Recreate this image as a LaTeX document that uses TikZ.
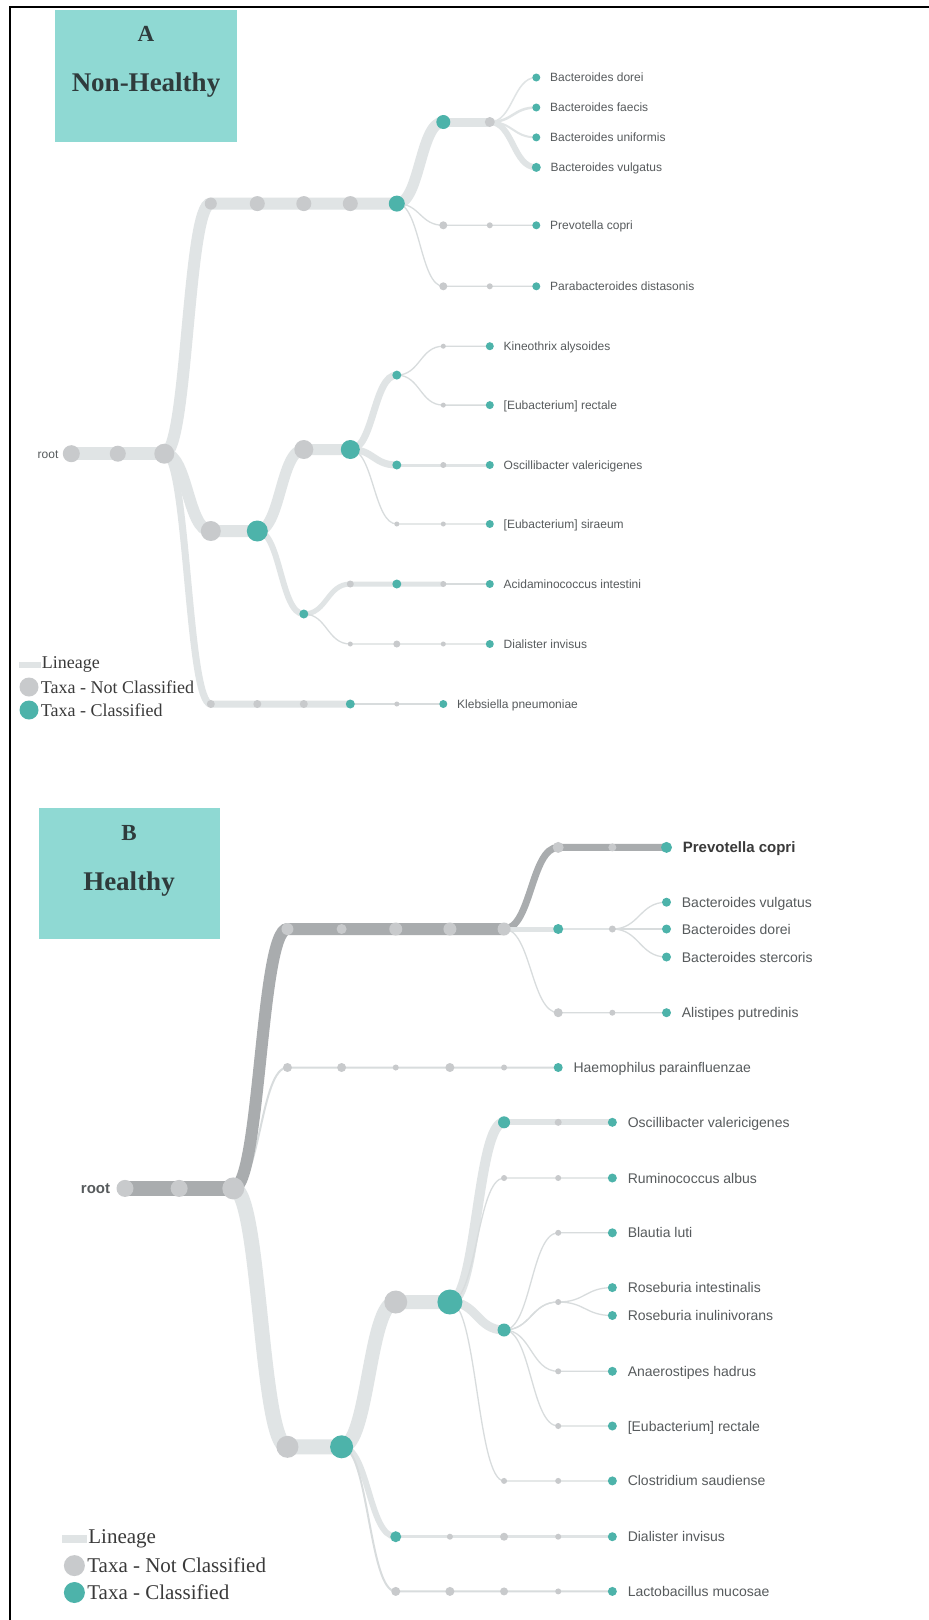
\documentclass[tikz,border=0pt]{standalone}
\usepackage{fontspec}
\setmainfont{Liberation Serif}
\setsansfont{Liberation Sans}
\usetikzlibrary{calc,positioning,backgrounds}

\definecolor{taxteal}{HTML}{4DB3AA}
\definecolor{taxgray}{HTML}{C8CACC}
\definecolor{lineage}{HTML}{E0E4E5}
\definecolor{lineagedark}{HTML}{A9ACAE}
\definecolor{twiggray}{HTML}{D8DCDD}
\definecolor{panelbox}{HTML}{8FD9D3}
\definecolor{paneltext}{HTML}{2F3B3C}
\definecolor{labelgray}{HTML}{575B5D}
\definecolor{legendtext}{HTML}{3A3A3A}

\begin{document}
\begin{tikzpicture}[x=1pt, y=-1pt,
    tax/.style={circle, inner sep=0pt, minimum size=#1},
    nc/.style={tax=#1, fill=taxgray},
    cl/.style={tax=#1, fill=taxteal},
    lbl/.style={font=\sffamily\fontsize{12}{12}\selectfont, text=labelgray,
      inner sep=0pt, text height=8.6pt, text depth=0pt},
    lin/.style={draw=lineage, line width=#1},
    dark/.style={draw=lineagedark, line width=#1},
    twig/.style={draw=twiggray, line width=#1}, twig/.default=1.3,
    link/.style={to path={let \p1=(\tikztostart), \p2=(\tikztotarget) in
        .. controls ({(\x1+\x2)/2},\y1) and ({(\x1+\x2)/2},\y2) .. (\tikztotarget)}},
    head/.style={text=paneltext, inner sep=0pt, font=\bfseries\fontsize{#1}{#1}\selectfont},
    leg/.style={text=legendtext, inner sep=0pt, font=\fontsize{#1}{#1}\selectfont},
  ]
\useasboundingbox (0,0) rectangle (929,1620);
\begin{scope}[on background layer]
  \fill[white] (0,0) rectangle (929,1620);
\end{scope}
\draw[line width=2.5pt] (10,1620) -- (10,7) -- (929,7);

% ================= A : non-healthy =================
\fill[panelbox] (55,10) rectangle (237,142);
\node[head=23] (hA) at (146,34) {A};
\node[head=27] (tA) at (146,85) {Non-Healthy};

\begin{scope}[x=46.5pt, xshift=71.3pt, label distance=9.5pt]
  % main stem
  \node[nc=17] (a0) at (0,453.7) {};
  \node[nc=16] (a1) at (1,453.7) {};
  \node[nc=20] (a2) at (2,453.7) {};
  \node[lbl, left=4pt of a0] (rootA) {root};
  % Bacteroidales
  \node[nc=12] (at3) at (3,203.6) {};
  \node[nc=15] (at4) at (4,203.6) {};
  \node[nc=15] (at5) at (5,203.6) {};
  \node[nc=15] (at6) at (6,203.6) {};
  \node[cl=16] (at7) at (7,203.6) {};
  \node[cl=14] (ab8) at (8,122) {};
  \node[nc=10] (ab9) at (9,122) {};
  \node[cl=8, label={[lbl]right:Bacteroides dorei}] (ab10a) at (10,77.5) {};
  \node[cl=8, label={[lbl]right:Bacteroides faecis}] (ab10b) at (10,107.5) {};
  \node[cl=8, label={[lbl]right:Bacteroides uniformis}] (ab10c) at (10,137.4) {};
  \node[cl=9, label={[lbl]right:Bacteroides vulgatus}] (ab10d) at (10,167.4) {};
  \node[nc=8] (ap8) at (8,225.3) {};
  \node[nc=6] (ap9) at (9,225.3) {};
  \node[cl=8, label={[lbl]right:Prevotella copri}] (ap10) at (10,225.3) {};
  \node[nc=8] (aq8) at (8,286.3) {};
  \node[nc=6] (aq9) at (9,286.3) {};
  \node[cl=8, label={[lbl]right:Parabacteroides distasonis}] (aq10) at (10,286.3) {};
  % Clostridia and Negativicutes
  \node[nc=20] (al3) at (3,531) {};
  \node[cl=21] (al4) at (4,531) {};
  \node[nc=19] (al5) at (5,449.5) {};
  \node[cl=19] (al6) at (6,449.5) {};
  \node[cl=9] (ak7) at (7,375.1) {};
  \node[nc=5] (ak8) at (8,346.2) {};
  \node[cl=8, label={[lbl]right:Kineothrix alysoides}] (ak9) at (9,346.2) {};
  \node[nc=5] (ar8) at (8,405.1) {};
  \node[cl=8, label={[lbl]right:{[Eubacterium] rectale}}] (ar9) at (9,405.1) {};
  \node[cl=9] (ao7) at (7,465) {};
  \node[nc=6] (ao8) at (8,465) {};
  \node[cl=8, label={[lbl]right:Oscillibacter valericigenes}] (ao9) at (9,465) {};
  \node[nc=5] (as7) at (7,524) {};
  \node[nc=5] (as8) at (8,524) {};
  \node[cl=8, label={[lbl]right:{[Eubacterium] siraeum}}] (as9) at (9,524) {};
  \node[cl=9] (ad5) at (5,614) {};
  \node[nc=7] (aa6) at (6,584) {};
  \node[cl=9] (aa7) at (7,584) {};
  \node[nc=6] (aa8) at (8,584) {};
  \node[cl=8, label={[lbl]right:Acidaminococcus intestini}] (aa9) at (9,584) {};
  \node[nc=5] (ai6) at (6,644) {};
  \node[nc=7] (ai7) at (7,644) {};
  \node[nc=5] (ai8) at (8,644) {};
  \node[cl=8, label={[lbl]right:Dialister invisus}] (ai9) at (9,644) {};
  % Enterobacterales
  \node[nc=8] (ae3) at (3,704) {};
  \node[nc=8] (ae4) at (4,704) {};
  \node[nc=8] (ae5) at (5,704) {};
  \node[cl=9] (ae6) at (6,704) {};
  \node[nc=5] (ae7) at (7,704) {};
  \node[cl=8, label={[lbl]right:Klebsiella pneumoniae}] (ae8) at (8,704) {};

  \begin{scope}[on background layer]
    \draw[lin=13] (a0.center) -- (a1.center) -- (a2.center);
    \draw[lin=12] (a2.center) to[link] (at3.center) -- (at4.center) -- (at5.center) -- (at6.center) -- (at7.center);
    \draw[lin=11] (at7.center) to[link] (ab8.center);
    \draw[lin=9] (ab8.center) -- (ab9.center);
    \foreach \leaf/\w in {ab10a/1.5, ab10b/2.5, ab10c/2, ab10d/6}
      \draw[lin=\w] (ab9.center) to[link] (\leaf.center);
    \draw[twig] (at7.center) to[link] (ap8.center) -- (ap9.center) -- (ap10.center);
    \draw[twig] (at7.center) to[link] (aq8.center) -- (aq9.center) -- (aq10.center);
    \draw[lin=12] (a2.center) to[link] (al3.center) -- (al4.center);
    \draw[lin=11] (al4.center) to[link] (al5.center) -- (al6.center);
    \draw[lin=7] (al6.center) to[link] (ak7.center);
    \draw[twig] (ak7.center) to[link] (ak8.center) -- (ak9.center);
    \draw[twig] (ak7.center) to[link] (ar8.center) -- (ar9.center);
    \draw[lin=7] (al6.center) to[link] (ao7.center);
    \draw[lin=3] (ao7.center) -- (ao8.center) -- (ao9.center);
    \draw[twig] (al6.center) to[link] (as7.center) -- (as8.center) -- (as9.center);
    \draw[lin=6] (al4.center) to[link] (ad5.center);
    \draw[lin=5] (ad5.center) to[link] (aa6.center) -- (aa7.center) -- (aa8.center);
    \draw[twig] (aa8.center) -- (aa9.center);
    \draw[twig] (ad5.center) to[link] (ai6.center) -- (ai7.center) -- (ai8.center) -- (ai9.center);
    \draw[lin=7] (a2.center) to[link] (ae3.center) -- (ae4.center) -- (ae5.center) -- (ae6.center);
    \draw[twig] (ae6.center) -- (ae7.center) -- (ae8.center);
  \end{scope}
\end{scope}

% legend A
\node[fill=lineage, minimum width=22pt, minimum height=6pt, inner sep=0pt] (legAbar) at (30,664.5) {};
\node[leg=18, right=0.5pt of legAbar] (legAtxt1) {Lineage};
\node[nc=19] (legAnc) at (29,687) {};
\node[leg=18, right=2pt of legAnc] (legAtxt2) {Taxa - Not Classified};
\node[cl=19] (legAcl) at (29,710) {};
\node[leg=18, right=2pt of legAcl] (legAtxt3) {Taxa - Classified};

% ================= B : healthy =================
\fill[panelbox] (39.3,808) rectangle (220,939.4);
\node[head=23] (hB) at (129,833) {B};
\node[head=27] (tB) at (129,883.6) {Healthy};

\begin{scope}[x=54.15pt, xshift=125pt, label distance=10.5pt,
    lbl/.append style={font=\sffamily\fontsize{14}{14}\selectfont, text height=10pt}]
  % main stem
  \node[nc=17] (b0) at (0,1188.4) {};
  \node[nc=17] (b1) at (1,1188.4) {};
  \node[nc=22] (b2) at (2,1188.4) {};
  \node[lbl, font=\sffamily\bfseries\fontsize{15}{15}\selectfont, left=6pt of b0] (rootB) {root};
  % Bacteroidales
  \node[nc=12] (bt3) at (3,929) {};
  \node[nc=10] (bt4) at (4,929) {};
  \node[nc=13] (bt5) at (5,929) {};
  \node[nc=13] (bt6) at (6,929) {};
  \node[nc=13] (bt7) at (7,929) {};
  \node[nc=11] (bp8) at (8,847.4) {};
  \node[nc=8] (bp9) at (9,847.4) {};
  \node[cl=11, label={[lbl, font=\sffamily\bfseries\fontsize{15}{15}\selectfont, text=legendtext]right:Prevotella copri}] (bp10) at (10,847.4) {};
  \node[cl=10] (bb8) at (8,929) {};
  \node[nc=7] (bb9) at (9,929) {};
  \node[cl=9, label={[lbl]right:Bacteroides vulgatus}] (bb10a) at (10,902.2) {};
  \node[cl=9, label={[lbl]right:Bacteroides dorei}] (bb10b) at (10,929) {};
  \node[cl=9, label={[lbl]right:Bacteroides stercoris}] (bb10c) at (10,957) {};
  \node[nc=9] (ba8) at (8,1012.7) {};
  \node[nc=6] (ba9) at (9,1012.7) {};
  \node[cl=9, label={[lbl]right:Alistipes putredinis}] (ba10) at (10,1012.7) {};
  % Pasteurellales
  \node[nc=9] (bh3) at (3,1067.5) {};
  \node[nc=9] (bh4) at (4,1067.5) {};
  \node[nc=6] (bh5) at (5,1067.5) {};
  \node[nc=9] (bh6) at (6,1067.5) {};
  \node[nc=6] (bh7) at (7,1067.5) {};
  \node[cl=9, label={[lbl]right:Haemophilus parainfluenzae}] (bh8) at (8,1067.5) {};
  % Clostridia, Negativicutes, Bacilli
  \node[nc=22] (bl3) at (3,1446.8) {};
  \node[cl=23] (bl4) at (4,1446.8) {};
  \node[nc=23] (bl5) at (5,1302) {};
  \node[cl=25] (bl6) at (6,1302) {};
  \node[cl=12] (bo7) at (7,1122.3) {};
  \node[nc=7] (bo8) at (8,1122.3) {};
  \node[cl=9, label={[lbl]right:Oscillibacter valericigenes}] (bo9) at (9,1122.3) {};
  \node[nc=6] (bu7) at (7,1178) {};
  \node[nc=6] (bu8) at (8,1178) {};
  \node[cl=9, label={[lbl]right:Ruminococcus albus}] (bu9) at (9,1178) {};
  \node[cl=13] (bc7) at (7,1330) {};
  \node[nc=6] (bz8) at (8,1232.8) {};
  \node[cl=9, label={[lbl]right:Blautia luti}] (bz9) at (9,1232.8) {};
  \node[nc=6] (br8) at (8,1302) {};
  \node[cl=9, label={[lbl]right:Roseburia intestinalis}] (br9a) at (9,1287.6) {};
  \node[cl=9, label={[lbl]right:Roseburia inulinivorans}] (br9b) at (9,1315.5) {};
  \node[nc=6] (bn8) at (8,1371.3) {};
  \node[cl=9, label={[lbl]right:Anaerostipes hadrus}] (bn9) at (9,1371.3) {};
  \node[nc=6] (be8) at (8,1426) {};
  \node[cl=9, label={[lbl]right:{[Eubacterium] rectale}}] (be9) at (9,1426) {};
  \node[nc=6] (bs7) at (7,1480.9) {};
  \node[nc=6] (bs8) at (8,1480.9) {};
  \node[cl=9, label={[lbl]right:Clostridium saudiense}] (bs9) at (9,1480.9) {};
  \node[cl=11] (bd5) at (5,1536.7) {};
  \node[nc=6] (bd6) at (6,1536.7) {};
  \node[nc=8] (bd7) at (7,1536.7) {};
  \node[nc=6] (bd8) at (8,1536.7) {};
  \node[cl=9, label={[lbl]right:Dialister invisus}] (bd9) at (9,1536.7) {};
  \node[nc=9] (bm5) at (5,1591.4) {};
  \node[nc=9] (bm6) at (6,1591.4) {};
  \node[nc=8] (bm7) at (7,1591.4) {};
  \node[nc=6] (bm8) at (8,1591.4) {};
  \node[cl=9, label={[lbl]right:Lactobacillus mucosae}] (bm9) at (9,1591.4) {};

  \begin{scope}[on background layer]
    \draw[twig=2] (b2.center) to[link] (bh3.center) -- (bh4.center) -- (bh5.center) -- (bh6.center) -- (bh7.center) -- (bh8.center);
    \draw[dark=15] (b0.center) -- (b1.center) -- (b2.center);
    \draw[dark=12] (b2.center) to[link] (bt3.center) -- (bt4.center) -- (bt5.center) -- (bt6.center) -- (bt7.center);
    \draw[dark=7] (bt7.center) to[link] (bp8.center) -- (bp9.center) -- (bp10.center);
    \draw[lin=5] (bt7.center) to[link] (bb8.center);
    \draw[lin=2.5] (bb8.center) -- (bb9.center);
    \foreach \leaf in {bb10a, bb10b, bb10c}
      \draw[twig] (bb9.center) to[link] (\leaf.center);
    \draw[twig] (bt7.center) to[link] (ba8.center) -- (ba9.center) -- (ba10.center);
    \draw[lin=15] (b2.center) to[link] (bl3.center) -- (bl4.center);
    \draw[lin=14] (bl4.center) to[link] (bl5.center) -- (bl6.center);
    \draw[lin=10] (bl6.center) to[link] (bo7.center);
    \draw[lin=6] (bo7.center) -- (bo8.center) -- (bo9.center);
    \draw[twig] (bl6.center) to[link] (bu7.center) -- (bu8.center) -- (bu9.center);
    \draw[lin=9] (bl6.center) to[link] (bc7.center);
    \foreach \via/\leaf in {bz8/bz9, br8/br9a, br8/br9b, bn8/bn9, be8/be9}
      \draw[twig] (bc7.center) to[link] (\via.center) to[link] (\leaf.center);
    \draw[twig] (bl6.center) to[link] (bs7.center) -- (bs8.center) -- (bs9.center);
    \draw[lin=6] (bl4.center) to[link] (bd5.center);
    \draw[lin=3] (bd5.center) -- (bd6.center) -- (bd7.center) -- (bd8.center) -- (bd9.center);
    \draw[twig=2] (bl4.center) to[link] (bm5.center) -- (bm6.center) -- (bm7.center) -- (bm8.center) -- (bm9.center);
  \end{scope}
\end{scope}

% legend B
\node[fill=lineage, minimum width=25pt, minimum height=8pt, inner sep=0pt] (legBbar) at (74.5,1538.7) {};
\node[leg=21, right=1pt of legBbar] (legBtxt1) {Lineage};
\node[nc=21] (legBnc) at (74.4,1565.6) {};
\node[leg=21, right=2pt of legBnc] (legBtxt2) {Taxa - Not Classified};
\node[cl=21] (legBcl) at (74.4,1592.5) {};
\node[leg=21, right=2pt of legBcl] (legBtxt3) {Taxa - Classified};
\end{tikzpicture}
\end{document}
